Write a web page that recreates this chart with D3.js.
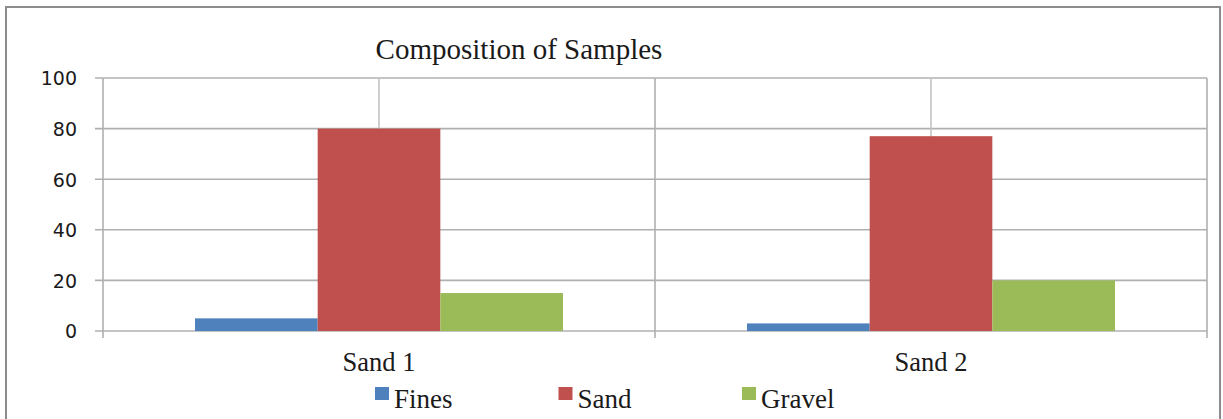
<!DOCTYPE html>
<html>
<head>
<meta charset="utf-8">
<script src="https://cdn.jsdelivr.net/npm/d3@7"></script>
<style>
  body { margin: 0; background: #fff; }
  svg { display: block; }
</style>
</head>
<body>
<svg id="chart"></svg>
<script>
const categories = ["Sand 1", "Sand 2"];
const seriesNames = ["Fines", "Sand", "Gravel"];
const fines = [5, 3];
const sand = [80, 77];
const gravel = [15, 20];
const yTicks = [0, 20, 40, 60, 80, 100];
const colors = ["#4f81bd", "#c0504d", "#9bbb59"];

const seriesValues = [fines, sand, gravel];
const rows = [];
categories.forEach((c, i) => {
    seriesNames.forEach((s, j) => rows.push({cat: c, series: s, value: seriesValues[j][i], color: colors[j]}));
});

const W = 1223, H = 419;
const plot = {left: 103, right: 1207, top: 78, bottom: 331};

const svg = d3.select("#chart").attr("width", W).attr("height", H);

// outer frame
svg.append("rect")
    .attr("x", 6).attr("y", 7)
    .attr("width", 1214).attr("height", 430)
    .attr("fill", "#fff")
    .attr("stroke", "#8c8c8c")
    .attr("stroke-width", 2);

const x = d3.scaleBand().domain(categories).range([plot.left, plot.right]).padding(0);
const xInner = d3.scaleBand().domain(seriesNames).range([0, x.bandwidth()])
    .paddingInner(0).paddingOuter(0.75);
const y = d3.scaleLinear().domain([0, 100]).range([plot.bottom, plot.top]);

const gridColor = "#b0b0b0";

// horizontal gridlines
svg.append("g")
    .selectAll("line")
    .data(yTicks)
    .join("line")
    .attr("x1", plot.left - 8).attr("x2", plot.right)
    .attr("y1", d => y(d)).attr("y2", d => y(d))
    .attr("stroke", gridColor)
    .attr("stroke-width", 1.6);

// vertical lines at category centers
svg.append("g")
    .selectAll("line")
    .data(categories)
    .join("line")
    .attr("x1", d => x(d) + x.bandwidth() / 2).attr("x2", d => x(d) + x.bandwidth() / 2)
    .attr("y1", plot.top).attr("y2", plot.bottom)
    .attr("stroke", "#c4c4c4")
    .attr("stroke-width", 1.6);

// vertical lines at category boundaries (extend down as tick marks)
const bounds = categories.map(d => x(d)).concat([x(categories[categories.length - 1]) + x.bandwidth()]);
svg.append("g")
    .selectAll("line")
    .data(bounds)
    .join("line")
    .attr("x1", d => d).attr("x2", d => d)
    .attr("y1", plot.top).attr("y2", plot.bottom + 7)
    .attr("stroke", gridColor)
    .attr("stroke-width", 1.6);

// bars
svg.append("g")
    .selectAll("rect")
    .data(rows)
    .join("rect")
    .attr("x", d => x(d.cat) + xInner(d.series))
    .attr("y", d => y(d.value))
    .attr("width", xInner.bandwidth())
    .attr("height", d => y(0) - y(d.value))
    .attr("fill", d => d.color);

// y axis labels
const yAxis = d3.axisLeft(y).tickValues(yTicks).tickSize(0).tickPadding(0);
const gy = svg.append("g")
    .attr("transform", `translate(${plot.left - 26}, 0)`)
    .call(yAxis);
gy.select(".domain").remove();
gy.selectAll("text")
    .attr("font-family", "'DejaVu Sans', sans-serif")
    .attr("font-size", 19)
    .attr("fill", "#1a1a1a")
    .attr("dy", "0.36em");

// x axis labels
const xAxis = d3.axisBottom(x).tickSize(0).tickPadding(0);
const gx = svg.append("g")
    .attr("transform", `translate(0, ${plot.bottom + 40})`)
    .call(xAxis);
gx.select(".domain").remove();
gx.selectAll("text")
    .attr("font-family", "'Liberation Serif', 'Times New Roman', serif")
    .attr("font-size", 26.5)
    .attr("fill", "#1a1a1a")
    .attr("dy", 0);

// title
svg.append("text")
    .attr("x", 519).attr("y", 59)
    .attr("text-anchor", "middle")
    .attr("font-family", "'Liberation Serif', 'Times New Roman', serif")
    .attr("font-size", 29)
    .attr("fill", "#1a1a1a")
    .text("Composition of Samples");

// legend
const legendX = d3.scalePoint().domain(seriesNames).range([375, 742]);
const legend = svg.append("g")
    .selectAll("g")
    .data(seriesNames)
    .join("g")
    .attr("transform", d => `translate(${legendX(d)}, 387)`);
legend.append("rect")
    .attr("width", 14).attr("height", 13)
    .attr("fill", (d, i) => colors[i]);
legend.append("text")
    .attr("x", 19).attr("y", 21)
    .attr("font-family", "'Liberation Serif', 'Times New Roman', serif")
    .attr("font-size", 27)
    .attr("fill", "#1a1a1a")
    .text(d => d);
</script>
</body>
</html>
